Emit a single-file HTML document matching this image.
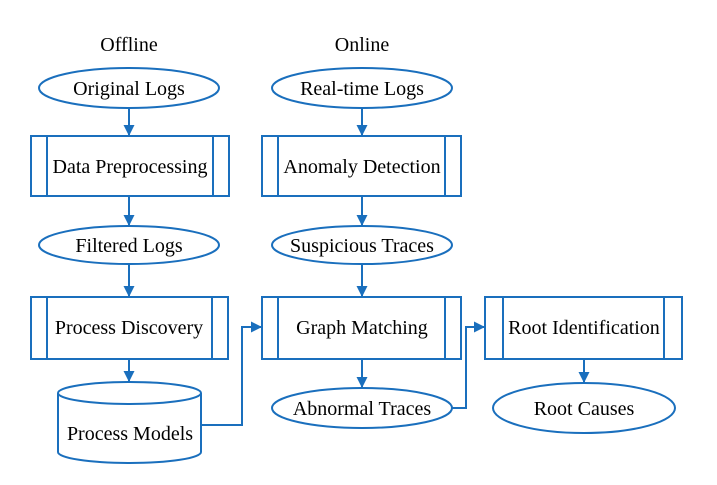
<!DOCTYPE html>
<html><head><style>body{margin:0;background:#fff}</style></head><body>
<svg width="717" height="480" xmlns="http://www.w3.org/2000/svg" font-family="Liberation Serif, serif" font-size="20" text-anchor="middle">
<defs><marker id="a" markerWidth="11" markerHeight="11" refX="10" refY="5.5" orient="auto" markerUnits="userSpaceOnUse"><path d="M0,0 L11,5.5 L0,11 z" fill="#1a6fbd"/></marker></defs>
<g fill="none" stroke="#1a6fbd" stroke-width="2">
<ellipse cx="129" cy="88" rx="90" ry="20"/>
<rect x="31" y="136" width="198" height="60"/><line x1="47" y1="136" x2="47" y2="196"/><line x1="213" y1="136" x2="213" y2="196"/>
<ellipse cx="129" cy="245" rx="90" ry="19"/>
<rect x="31" y="297" width="197" height="62"/><line x1="47" y1="297" x2="47" y2="359"/><line x1="212" y1="297" x2="212" y2="359"/>
<path d="M58,393 L58,452 A71.5,11 0 0 0 201,452 L201,393 A71.5,11 0 0 0 58,393 A71.5,11 0 0 0 201,393"/>
<ellipse cx="362" cy="88" rx="90" ry="20"/>
<rect x="262" y="136" width="199" height="60"/><line x1="278" y1="136" x2="278" y2="196"/><line x1="445" y1="136" x2="445" y2="196"/>
<ellipse cx="362" cy="245" rx="90" ry="19"/>
<rect x="262" y="297" width="199" height="62"/><line x1="278" y1="297" x2="278" y2="359"/><line x1="445" y1="297" x2="445" y2="359"/>
<ellipse cx="362" cy="408" rx="90" ry="20"/>
<rect x="485" y="297" width="197" height="62"/><line x1="503" y1="297" x2="503" y2="359"/><line x1="664" y1="297" x2="664" y2="359"/>
<ellipse cx="584" cy="408" rx="91" ry="25"/>
<line x1="129" y1="108" x2="129" y2="135" marker-end="url(#a)"/>
<line x1="129" y1="196" x2="129" y2="225" marker-end="url(#a)"/>
<line x1="129" y1="264" x2="129" y2="296" marker-end="url(#a)"/>
<line x1="129" y1="359" x2="129" y2="381" marker-end="url(#a)"/>
<line x1="362" y1="108" x2="362" y2="135" marker-end="url(#a)"/>
<line x1="362" y1="196" x2="362" y2="225" marker-end="url(#a)"/>
<line x1="362" y1="264" x2="362" y2="296" marker-end="url(#a)"/>
<line x1="362" y1="359" x2="362" y2="387" marker-end="url(#a)"/>
<line x1="584" y1="359" x2="584" y2="382" marker-end="url(#a)"/>
<path d="M201,425 L242,425 L242,327 L261,327" marker-end="url(#a)"/>
<path d="M452,408 L466,408 L466,327 L484,327" marker-end="url(#a)"/>
</g>
<g fill="#000">
<text x="129" y="51">Offline</text><text x="362" y="51">Online</text>
<text x="129" y="95">Original Logs</text>
<text x="130" y="173">Data Preprocessing</text>
<text x="129" y="252">Filtered Logs</text>
<text x="129" y="334">Process Discovery</text>
<text x="130" y="440">Process Models</text>
<text x="362" y="95">Real-time Logs</text>
<text x="362" y="173">Anomaly Detection</text>
<text x="362" y="252">Suspicious Traces</text>
<text x="362" y="334">Graph Matching</text>
<text x="362" y="415">Abnormal Traces</text>
<text x="584" y="334">Root Identification</text>
<text x="584" y="415">Root Causes</text>
</g>
</svg>
</body></html>
